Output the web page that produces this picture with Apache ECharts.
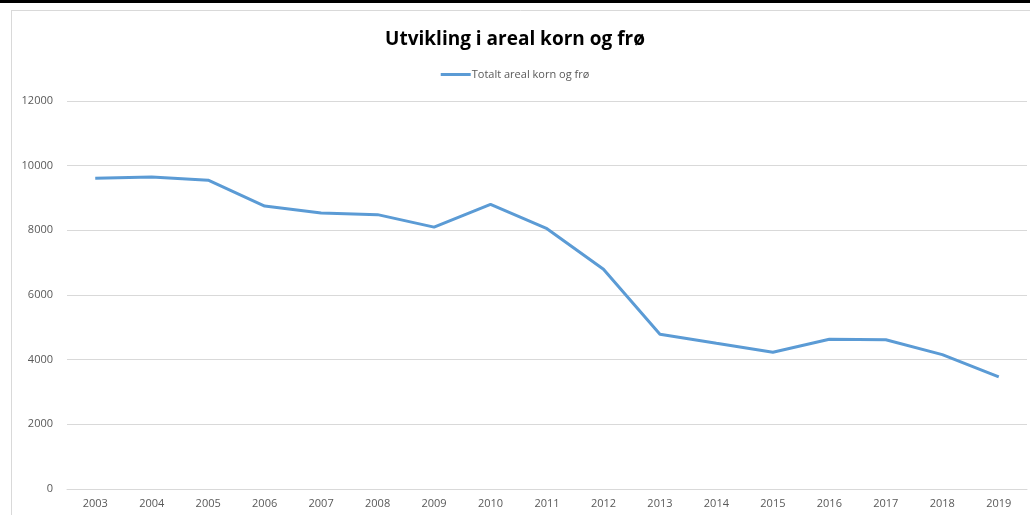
<!DOCTYPE html>
<html>
<head>
<meta charset="utf-8">
<script src="https://cdn.jsdelivr.net/npm/echarts@6/dist/echarts.min.js"></script>
<style>
html,body{margin:0;padding:0;background:#fff;}
#c{width:1030px;height:515px;}
</style>
</head>
<body>
<div id="c"></div>
<script>
const years = ['2003','2004','2005','2006','2007','2008','2009','2010','2011','2012','2013','2014','2015','2016','2017','2018','2019'];
const areal = [9610, 9650, 9550, 8750, 8535, 8485, 8100, 8805, 8050, 6795, 4785, 4505, 4230, 4630, 4615, 4155, 3465];
const seriesName = 'Totalt areal korn og frø';
const titleText = 'Utvikling i areal korn og frø';

const chart = echarts.init(document.getElementById('c'));
const font = '"Open Sans", "Noto Sans", sans-serif';
chart.setOption({
  animation: false,
  backgroundColor: '#fff',
  graphic: [
    {type:'rect', shape:{x:0,y:0,width:1030,height:3}, style:{fill:'#000'}, z:10},
    {type:'line', shape:{x1:11.5,y1:10,x2:11.5,y2:515}, style:{stroke:'#d9d9d9',lineWidth:1}},
    {type:'line', shape:{x1:11,y1:10.5,x2:1030,y2:10.5}, style:{stroke:'#d9d9d9',lineWidth:1}}
  ],
  title: {
    text: titleText,
    left: 'center',
    top: 25,
    textStyle: {fontFamily: font, fontSize: 19, fontWeight: 'bold', color: '#000'}
  },
  legend: {
    top: 64,
    left: 'center',
    itemWidth: 30,
    itemHeight: 3,
    itemGap: 4,
    icon: 'rect',
    textStyle: {fontFamily: font, fontSize: 11, color: '#595959', padding:[0,0,0,-4]},
    data: [seriesName]
  },
  grid: {left: 67, right: 3, top: 101, bottom: 26, containLabel: false},
  xAxis: {
    type: 'category',
    data: years,
    boundaryGap: true,
    axisLine: {show: true, lineStyle: {color: '#d9d9d9'}},
    axisTick: {show: false},
    axisLabel: {fontFamily: font, fontSize: 11, color: '#595959', margin: 9}
  },
  yAxis: {
    type: 'value',
    min: 0, max: 12000, interval: 2000,
    axisLine: {show: false},
    axisTick: {show: false},
    splitLine: {lineStyle: {color: '#d9d9d9'}},
    axisLabel: {fontFamily: font, fontSize: 11, color: '#595959', margin: 14, formatter: v => String(v)}
  },
  series: [{
    name: seriesName,
    type: 'line',
    data: areal,
    showSymbol: false,
    symbol: 'none',
    lineStyle: {color: '#5b9bd5', width: 3},
    itemStyle: {color: '#5b9bd5'}
  }]
});
</script>
</body>
</html>
